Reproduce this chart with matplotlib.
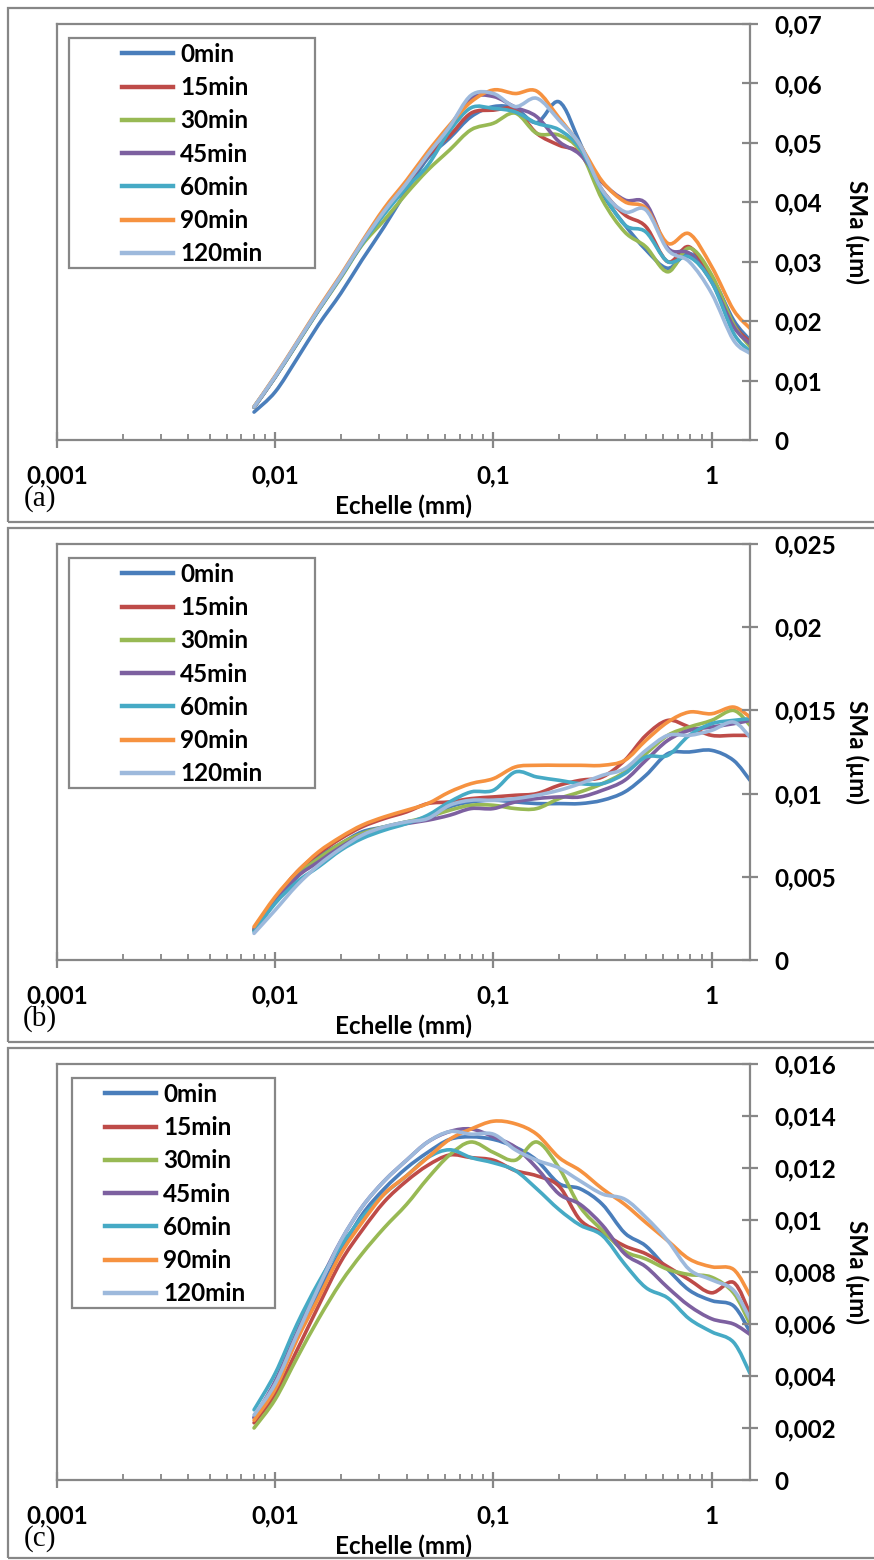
import numpy as np
import matplotlib
matplotlib.use('Agg')
import matplotlib.pyplot as plt
from matplotlib.path import Path
from matplotlib.patches import PathPatch, Rectangle
from matplotlib.lines import Line2D
from matplotlib.ticker import FixedLocator, FixedFormatter, NullFormatter

plt.rcParams['font.family'] = ['Lato', 'DejaVu Sans']

# ---------------- data ----------------
scale_mm = [0.008, 0.01, 0.0126, 0.0158, 0.02, 0.025, 0.0316, 0.04, 0.05, 0.063,
            0.079, 0.1, 0.126, 0.158, 0.2, 0.25, 0.316, 0.4, 0.5, 0.63,
            0.79, 1.0, 1.26, 1.5]
series_names = ['0min', '15min', '30min', '45min', '60min', '90min', '120min']

# panel (a)
a_0min = [0.0047, 0.0081, 0.0137, 0.0194, 0.0247, 0.0303, 0.0359, 0.0420, 0.0474, 0.0508, 0.0544, 0.0561, 0.0558, 0.0534, 0.0569, 0.0499, 0.0415, 0.0362, 0.0320, 0.0289, 0.0314, 0.0275, 0.0202, 0.0168]
a_15min = [0.0055, 0.0106, 0.0163, 0.0219, 0.0275, 0.0330, 0.0382, 0.0430, 0.0478, 0.0512, 0.0550, 0.0555, 0.0556, 0.0516, 0.0496, 0.0482, 0.0420, 0.0379, 0.0359, 0.0300, 0.0325, 0.0270, 0.0195, 0.0165]
a_30min = [0.0056, 0.0106, 0.0162, 0.0218, 0.0273, 0.0328, 0.0370, 0.0415, 0.0454, 0.0488, 0.0522, 0.0533, 0.0550, 0.0516, 0.0513, 0.0486, 0.0404, 0.0350, 0.0325, 0.0283, 0.0323, 0.0278, 0.0195, 0.0157]
a_45min = [0.0055, 0.0106, 0.0163, 0.0219, 0.0275, 0.0331, 0.0384, 0.0432, 0.0480, 0.0527, 0.0575, 0.0578, 0.0560, 0.0544, 0.0502, 0.0480, 0.0433, 0.0404, 0.0398, 0.0323, 0.0314, 0.0266, 0.0191, 0.0162]
a_60min = [0.0055, 0.0106, 0.0163, 0.0219, 0.0275, 0.0330, 0.0380, 0.0425, 0.0462, 0.0520, 0.0559, 0.0558, 0.0552, 0.0533, 0.0522, 0.0490, 0.0418, 0.0362, 0.0350, 0.0300, 0.0308, 0.0266, 0.0180, 0.0149]
a_90min = [0.0056, 0.0108, 0.0165, 0.0222, 0.0278, 0.0334, 0.0390, 0.0437, 0.0485, 0.0530, 0.0569, 0.0589, 0.0583, 0.0587, 0.0542, 0.0496, 0.0435, 0.0401, 0.0390, 0.0331, 0.0347, 0.0292, 0.0219, 0.0188]
a_120min = [0.0056, 0.0107, 0.0164, 0.0220, 0.0276, 0.0332, 0.0385, 0.0432, 0.0480, 0.0527, 0.0580, 0.0583, 0.0561, 0.0575, 0.0538, 0.0496, 0.0420, 0.0384, 0.0387, 0.0320, 0.0300, 0.0247, 0.0168, 0.0146]

# panel (b)
b_0min = [0.0018, 0.0035, 0.0050, 0.0062, 0.0070, 0.0077, 0.0080, 0.0083, 0.0085, 0.0092, 0.0095, 0.0096, 0.0095, 0.0094, 0.0094, 0.0094, 0.0096, 0.0101, 0.0111, 0.0124, 0.0125, 0.0126, 0.0120, 0.0108]
b_15min = [0.0019, 0.0037, 0.0053, 0.0064, 0.0073, 0.0080, 0.0085, 0.0089, 0.0094, 0.0095, 0.0097, 0.0098, 0.0099, 0.0100, 0.0105, 0.0108, 0.0110, 0.0120, 0.0135, 0.0144, 0.0140, 0.0135, 0.0135, 0.0135]
b_30min = [0.0018, 0.0035, 0.0051, 0.0061, 0.0070, 0.0076, 0.0080, 0.0083, 0.0086, 0.0090, 0.0093, 0.0093, 0.0091, 0.0091, 0.0097, 0.0101, 0.0106, 0.0113, 0.0124, 0.0135, 0.0140, 0.0144, 0.0150, 0.0141]
b_45min = [0.0018, 0.0035, 0.0050, 0.0059, 0.0068, 0.0075, 0.0079, 0.0082, 0.0084, 0.0087, 0.0091, 0.0091, 0.0095, 0.0097, 0.0098, 0.0098, 0.0102, 0.0108, 0.0120, 0.0132, 0.0138, 0.0140, 0.0142, 0.0144]
b_60min = [0.0017, 0.0034, 0.0047, 0.0056, 0.0066, 0.0073, 0.0078, 0.0082, 0.0087, 0.0095, 0.0101, 0.0102, 0.0113, 0.0110, 0.0108, 0.0106, 0.0106, 0.0112, 0.0122, 0.0123, 0.0135, 0.0142, 0.0144, 0.0145]
b_90min = [0.0020, 0.0038, 0.0053, 0.0065, 0.0074, 0.0081, 0.0086, 0.0090, 0.0094, 0.0101, 0.0106, 0.0109, 0.0116, 0.0117, 0.0117, 0.0117, 0.0117, 0.0120, 0.0132, 0.0143, 0.0149, 0.0148, 0.0152, 0.0146]
b_120min = [0.0016, 0.0030, 0.0045, 0.0057, 0.0067, 0.0075, 0.0080, 0.0083, 0.0085, 0.0093, 0.0096, 0.0096, 0.0097, 0.0099, 0.0102, 0.0106, 0.0111, 0.0115, 0.0126, 0.0135, 0.0135, 0.0138, 0.0143, 0.0134]

# panel (c)
c_0min = [0.0024, 0.0036, 0.0055, 0.0072, 0.0088, 0.0102, 0.0112, 0.0120, 0.0126, 0.0131, 0.0132, 0.0131, 0.0128, 0.0123, 0.0114, 0.0112, 0.0106, 0.0095, 0.0090, 0.0081, 0.0073, 0.0069, 0.0067, 0.0057]
c_15min = [0.0022, 0.0033, 0.0050, 0.0067, 0.0084, 0.0096, 0.0107, 0.0115, 0.0121, 0.0125, 0.0124, 0.0123, 0.0119, 0.0117, 0.0113, 0.0100, 0.0095, 0.0090, 0.0087, 0.0082, 0.0077, 0.0072, 0.0076, 0.0064]
c_30min = [0.0020, 0.0031, 0.0047, 0.0062, 0.0076, 0.0087, 0.0097, 0.0106, 0.0116, 0.0125, 0.0130, 0.0126, 0.0123, 0.0130, 0.0120, 0.0105, 0.0096, 0.0088, 0.0085, 0.0081, 0.0079, 0.0078, 0.0072, 0.0060]
c_45min = [0.0024, 0.0038, 0.0057, 0.0075, 0.0092, 0.0105, 0.0115, 0.0123, 0.0130, 0.0134, 0.0135, 0.0132, 0.0128, 0.0120, 0.0110, 0.0106, 0.0098, 0.0087, 0.0082, 0.0074, 0.0067, 0.0062, 0.0060, 0.0056]
c_60min = [0.0027, 0.0041, 0.0060, 0.0076, 0.0090, 0.0101, 0.0110, 0.0117, 0.0124, 0.0127, 0.0124, 0.0122, 0.0119, 0.0112, 0.0104, 0.0098, 0.0094, 0.0083, 0.0074, 0.0070, 0.0062, 0.0057, 0.0053, 0.0041]
c_90min = [0.0023, 0.0035, 0.0054, 0.0070, 0.0087, 0.0099, 0.0110, 0.0117, 0.0124, 0.0131, 0.0135, 0.0138, 0.0137, 0.0133, 0.0124, 0.0119, 0.0112, 0.0106, 0.0099, 0.0092, 0.0085, 0.0082, 0.0081, 0.0071]
c_120min = [0.0025, 0.0037, 0.0056, 0.0074, 0.0092, 0.0105, 0.0115, 0.0123, 0.0130, 0.0134, 0.0133, 0.0133, 0.0127, 0.0123, 0.0120, 0.0115, 0.0110, 0.0108, 0.0101, 0.0092, 0.0081, 0.0077, 0.0073, 0.0062]

x_ticks = [0.001, 0.01, 0.1, 1]
x_tick_labels = ['0,001', '0,01', '0,1', '1']
y_ticks_a = [0, 0.01, 0.02, 0.03, 0.04, 0.05, 0.06, 0.07]
y_labels_a = ['0', '0,01', '0,02', '0,03', '0,04', '0,05', '0,06', '0,07']
y_ticks_b = [0, 0.005, 0.01, 0.015, 0.02, 0.025]
y_labels_b = ['0', '0,005', '0,01', '0,015', '0,02', '0,025']
y_ticks_c = [0, 0.002, 0.004, 0.006, 0.008, 0.01, 0.012, 0.014, 0.016]
y_labels_c = ['0', '0,002', '0,004', '0,006', '0,008', '0,01', '0,012', '0,014', '0,016']

x_label = 'Echelle (mm)'
y_label = 'SMa (µm)'
panel_tags = ['(a)', '(b)', '(c)']

colors = ['#4A7EBB', '#BE4B48', '#98B954', '#7D60A0', '#46AAC5', '#F69240', '#9DB9DC']

# ---------------- layout (pixels) ----------------
W, H = 874, 1560
fig = plt.figure(figsize=(W / 100, H / 100), dpi=100)
fig.patch.set_facecolor('white')

GRAY = '#878787'
FS = 17.5


def smooth_path(xs, ys):
    u = np.log10(np.asarray(xs, float))
    v = np.asarray(ys, float)
    n = len(u)
    verts = [(10 ** u[0], v[0])]
    codes = [Path.MOVETO]
    for i in range(n - 1):
        u0, v0 = (u[i - 1], v[i - 1]) if i > 0 else (u[i], v[i])
        u3, v3 = (u[i + 2], v[i + 2]) if i + 2 < n else (u[i + 1], v[i + 1])
        c1 = (u[i] + (u[i + 1] - u0) / 6, v[i] + (v[i + 1] - v0) / 6)
        c2 = (u[i + 1] - (u3 - u[i]) / 6, v[i + 1] - (v3 - v[i]) / 6)
        verts += [(10 ** c1[0], c1[1]), (10 ** c2[0], c2[1]), (10 ** u[i + 1], v[i + 1])]
        codes += [Path.CURVE4] * 3
    return Path(verts, codes)


panels = [
    ([a_0min, a_15min, a_30min, a_45min, a_60min, a_90min, a_120min], y_ticks_a, y_labels_a, 0, 'wide'),
    ([b_0min, b_15min, b_30min, b_45min, b_60min, b_90min, b_120min], y_ticks_b, y_labels_b, 520, 'wide'),
    ([c_0min, c_15min, c_30min, c_45min, c_60min, c_90min, c_120min], y_ticks_c, y_labels_c, 1040, 'narrow'),
]

ax_left, ax_right = 57, 750
for k, (series, yt, yl, off, legkind) in enumerate(panels):
    frame_top = off + 8
    frame_bot = off + 522 if k < 2 else 1558
    # outer frame
    fig.patches.append(Rectangle((8 / W, 1 - frame_bot / H), (W + 20) / W, (frame_bot - frame_top) / H,
                                 transform=fig.transFigure, fill=False, edgecolor=GRAY,
                                 linewidth=1.6, clip_on=False))
    top, bot = off + 24, off + 440
    ax = fig.add_axes([ax_left / W, 1 - bot / H, (ax_right - ax_left) / W, (bot - top) / H])
    ax.set_xscale('log')
    ax.set_xlim(0.001, 1.5)
    ax.set_ylim(yt[0], yt[-1])
    for sp in ax.spines.values():
        sp.set_color(GRAY)
        sp.set_linewidth(1.6)

    for s, col in zip(series, colors):
        ax.add_patch(PathPatch(smooth_path(scale_mm, s), fill=False, edgecolor=col,
                               linewidth=2.6, capstyle='round', joinstyle='round'))

    ax.xaxis.set_major_locator(FixedLocator(x_ticks))
    ax.xaxis.set_major_formatter(FixedFormatter(x_tick_labels))
    minor = [m * d for d in [0.001, 0.01, 0.1, 1] for m in range(2, 10) if m * d <= 1.5]
    ax.xaxis.set_minor_locator(FixedLocator(minor))
    ax.xaxis.set_minor_formatter(NullFormatter())
    ax.tick_params(axis='x', which='major', direction='inout', length=11.5, width=1.6,
                   color=GRAY, pad=12, labelsize=FS)
    ax.tick_params(axis='x', which='minor', direction='in', length=4.5, width=1.3, color=GRAY)
    for t in ax.get_xticklabels():
        t.set_fontweight('bold')

    ax.yaxis.tick_right()
    ax.yaxis.set_major_locator(FixedLocator(yt))
    ax.yaxis.set_major_formatter(FixedFormatter(yl))
    ax.tick_params(axis='y', which='major', direction='inout', length=11.5, width=1.6,
                   color=GRAY, pad=12, labelsize=FS)
    for t in ax.get_yticklabels():
        t.set_fontweight('bold')
        t.set_horizontalalignment('left')

    ax.text(0.5, (440 - 506) / 416, x_label, transform=ax.transAxes, ha='center', va='center',
            fontsize=FS, fontweight='bold')
    ax.text((857 - 57) / 693, 0.5, y_label, transform=ax.transAxes, ha='center', va='center',
            rotation=-90, fontsize=FS, fontweight='bold')
    fig.text(40 / W, 1 - (off + 499) / H, panel_tags[k], ha='center', va='center',
             fontsize=21, family=['Liberation Serif', 'DejaVu Serif'])

    # legend
    if legkind == 'wide':
        bx0, bx1, hx = 69, 315, 122
    else:
        bx0, bx1, hx = 72, 275, 105
    by0, by1 = off + 38, off + 268
    ax.add_patch(Rectangle(((bx0 - 57) / 693, (bot - by1) / 416), (bx1 - bx0) / 693, (by1 - by0) / 416,
                           transform=ax.transAxes, facecolor='white', edgecolor=GRAY,
                           linewidth=1.6, zorder=5))
    handles = [Line2D([], [], color=c, linewidth=3.2) for c in colors]
    leg = ax.legend(handles, series_names, loc='upper left',
                    bbox_to_anchor=((hx - 57) / 693, (bot - (off + 43)) / 416),
                    frameon=False, borderaxespad=0, borderpad=0, handlelength=2.1,
                    handletextpad=0.29, labelspacing=0.42,
                    prop={'weight': 'bold', 'size': FS, 'family': ['Lato', 'DejaVu Sans']})
    leg.set_zorder(6)

fig.savefig('out.png', dpi=100, facecolor='white')
